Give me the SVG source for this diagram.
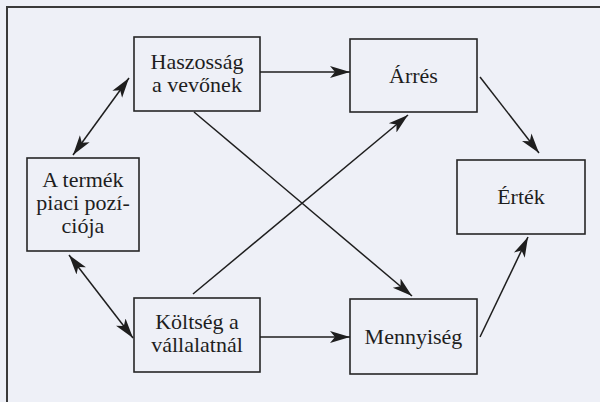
<svg xmlns="http://www.w3.org/2000/svg" width="600" height="402" viewBox="0 0 600 402">
  <style>
    .box { fill: none; stroke: #262626; stroke-width: 1.6; }
    .lbl { font-family: "Liberation Serif", "Times New Roman", serif; font-size: 22px; fill: #1e1e1e; text-anchor: middle; }
    .edge { stroke: #1e1e1e; stroke-width: 1.5; fill: none; }
    .frame { stroke: #3a3a3a; stroke-width: 2; fill: none; }
  </style>
  <defs>
    <marker id="ah" markerUnits="userSpaceOnUse" markerWidth="22" markerHeight="14" refX="20" refY="6" orient="auto-start-reverse" viewBox="0 0 22 12">
      <path d="M0,0 L20,6 L0,12 L5,6 z" fill="#1e1e1e"/>
    </marker>
  </defs>
  <rect x="0" y="0" width="600" height="402" fill="#eef0f7"/>
  <path class="frame" d="M7,402 V7 H600"/>

  <g id="haszossag">
    <rect class="box" x="134" y="37" width="126" height="74"/>
    <text class="lbl" x="197" y="69">Haszosság</text>
    <text class="lbl" x="197" y="92">a vevőnek</text>
  </g>
  <g id="arres">
    <rect class="box" x="350" y="39" width="127" height="73"/>
    <text class="lbl" x="413.5" y="83">Árrés</text>
  </g>
  <g id="termek">
    <rect class="box" x="27" y="158" width="112" height="93"/>
    <text class="lbl" x="83" y="187">A termék</text>
    <text class="lbl" x="83" y="210">piaci pozí-</text>
    <text class="lbl" x="83" y="233">ciója</text>
  </g>
  <g id="ertek">
    <rect class="box" x="457" y="160" width="128" height="74"/>
    <text class="lbl" x="521" y="204">Érték</text>
  </g>
  <g id="koltseg">
    <rect class="box" x="134" y="298" width="126" height="74"/>
    <text class="lbl" x="197" y="329">Költség a</text>
    <text class="lbl" x="197" y="352">vállalatnál</text>
  </g>
  <g id="mennyiseg">
    <rect class="box" x="350" y="299" width="127" height="75"/>
    <text class="lbl" x="413.5" y="344">Mennyiség</text>
  </g>

  <g id="connectors">
    <line class="edge" x1="260" y1="72" x2="350" y2="72" marker-end="url(#ah)"/>
    <line class="edge" x1="260" y1="337" x2="350" y2="337" marker-end="url(#ah)"/>
    <line class="edge" x1="129" y1="78" x2="73" y2="155" marker-start="url(#ah)" marker-end="url(#ah)"/>
    <line class="edge" x1="69" y1="255" x2="133" y2="338" marker-start="url(#ah)" marker-end="url(#ah)"/>
    <line class="edge" x1="194" y1="112" x2="412" y2="296" marker-end="url(#ah)"/>
    <line class="edge" x1="193" y1="294" x2="408" y2="115" marker-end="url(#ah)"/>
    <line class="edge" x1="480" y1="77" x2="539" y2="153" marker-end="url(#ah)"/>
    <line class="edge" x1="480" y1="337" x2="528" y2="237" marker-end="url(#ah)"/>
  </g>
</svg>
